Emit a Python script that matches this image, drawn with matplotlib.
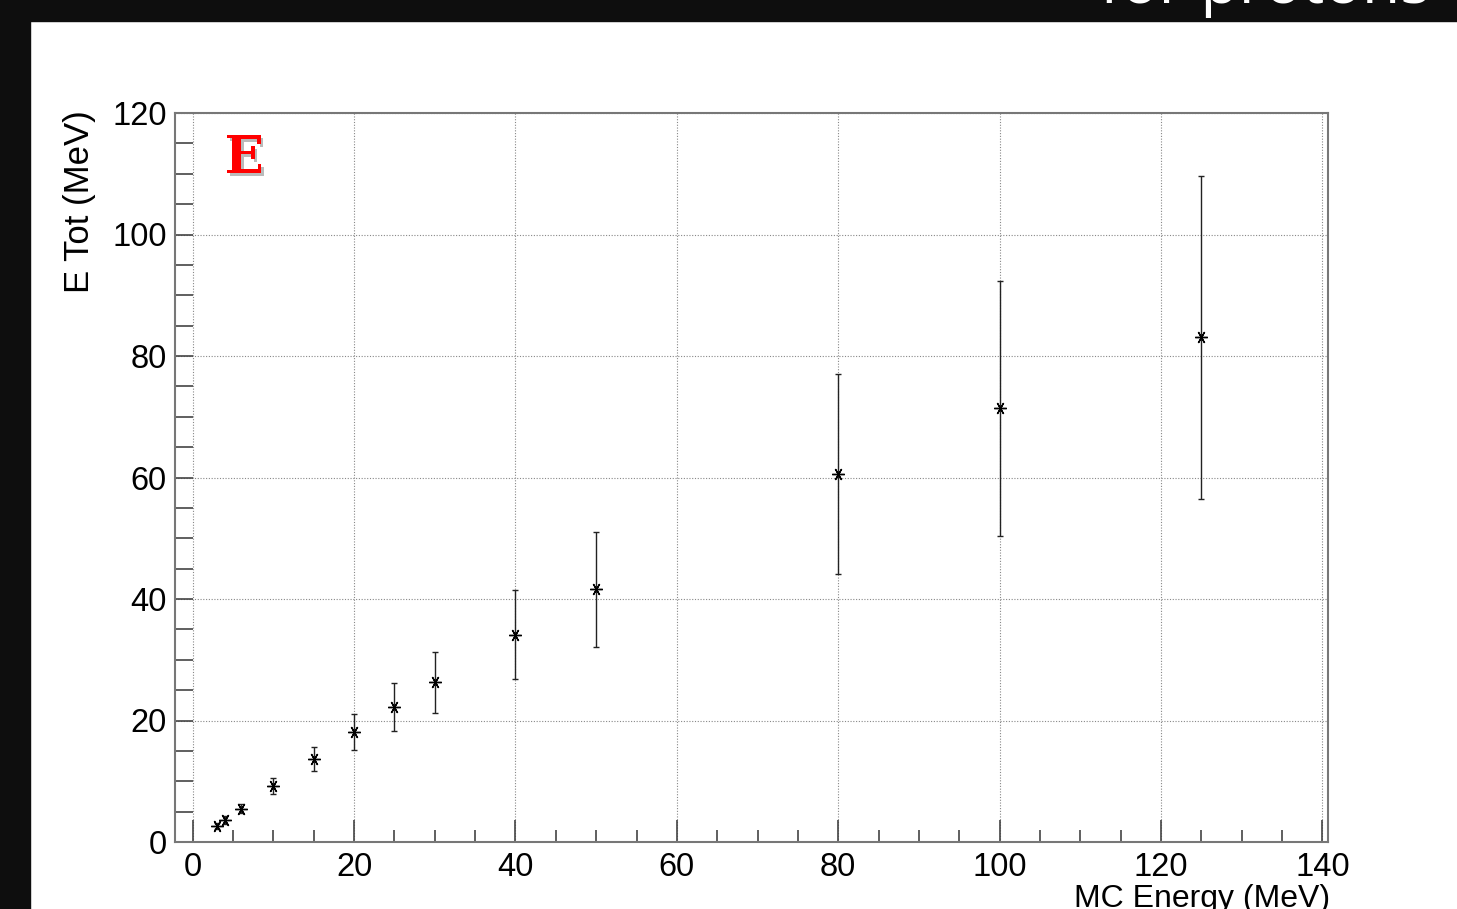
import matplotlib
matplotlib.use('Agg')
import matplotlib.pyplot as plt
import matplotlib.patheffects as pe
from matplotlib.patches import Rectangle
from matplotlib.ticker import MultipleLocator

# values
mc_energy = [3, 4, 6, 10, 15, 20, 25, 30, 40, 50, 80, 100, 125]
e_tot = [2.7, 3.6, 5.5, 9.2, 13.7, 18.1, 22.2, 26.3, 34.1, 41.6, 60.6, 71.4, 83.1]
e_err = [0.5, 0.6, 0.8, 1.3, 2.0, 2.9, 3.9, 5.0, 7.3, 9.5, 16.5, 21.0, 26.6]

x_ticks = [0, 20, 40, 60, 80, 100, 120, 140]
y_ticks = [0, 20, 40, 60, 80, 100, 120]

plt.rcParams['font.family'] = ['Liberation Sans', 'DejaVu Sans']

fig = plt.figure(figsize=(14.57, 9.09), dpi=100)
fig.patch.set_facecolor('white')

# dark slide frame (left strip and top bar)
fig.patches.append(Rectangle((0, 0), 30 / 1457, 1, transform=fig.transFigure,
                             color='#0e0e0e', zorder=0))
fig.patches.append(Rectangle((0, 1 - 21 / 909), 1, 21 / 909, transform=fig.transFigure,
                             color='#0e0e0e', zorder=0))
fig.text(1100 / 1457, 1 - 3 / 909, 'for protons', color='white', fontsize=45,
         family='Open Sans', ha='left', va='baseline', zorder=1)

ax = fig.add_axes([175 / 1457, 1 - 842 / 909, 1153 / 1457, 729 / 909])
ax.set_xlim(-2.2, 140.7)
ax.set_ylim(0, 120)

ax.errorbar(mc_energy, e_tot, yerr=e_err, fmt='none', ecolor='#222222',
            elinewidth=1.0, capsize=2.5, capthick=1.0, zorder=3)
ax.plot(mc_energy, e_tot, linestyle='none', marker=(6, 2, 90), markersize=9,
        markeredgecolor='black', markeredgewidth=1.0, zorder=4)

ax.set_xticks(x_ticks)
ax.set_yticks(y_ticks)
ax.xaxis.set_minor_locator(MultipleLocator(5))
ax.yaxis.set_minor_locator(MultipleLocator(5))
ax.grid(True, which='major', linestyle=(0, (1, 1.5)), color='#888888', linewidth=0.8)
ax.set_axisbelow(True)

ax.tick_params(axis='x', which='major', direction='in', length=16, width=1.2,
               color='#444444', labelsize=23.5, pad=7)
ax.tick_params(axis='x', which='minor', direction='in', length=8.5, width=1.2,
               color='#444444')
ax.tick_params(axis='y', which='both', direction='in', length=13, width=1.2,
               color='#444444', labelsize=23.5, pad=6)

for s in ax.spines.values():
    s.set_color('#777777')
    s.set_linewidth(1.5)

fig.text(80 / 1457, 1 - 110 / 909, 'E Tot (MeV)', rotation=90, fontsize=25,
         ha='center', va='top')
fig.text(1330 / 1457, 1 - 907 / 909, 'MC Energy (MeV)', fontsize=23,
         ha='right', va='baseline')

# red "E" label with a soft shadow
ax.text(0.043, 0.97, 'E', transform=ax.transAxes, color='#ff0000', fontsize=37,
        fontweight='bold', family='DejaVu Serif', ha='left', va='top',
        path_effects=[pe.withSimplePatchShadow(offset=(2, -2), shadow_rgbFace='#777777', alpha=0.5)])

fig.savefig('out.png', dpi=100)
